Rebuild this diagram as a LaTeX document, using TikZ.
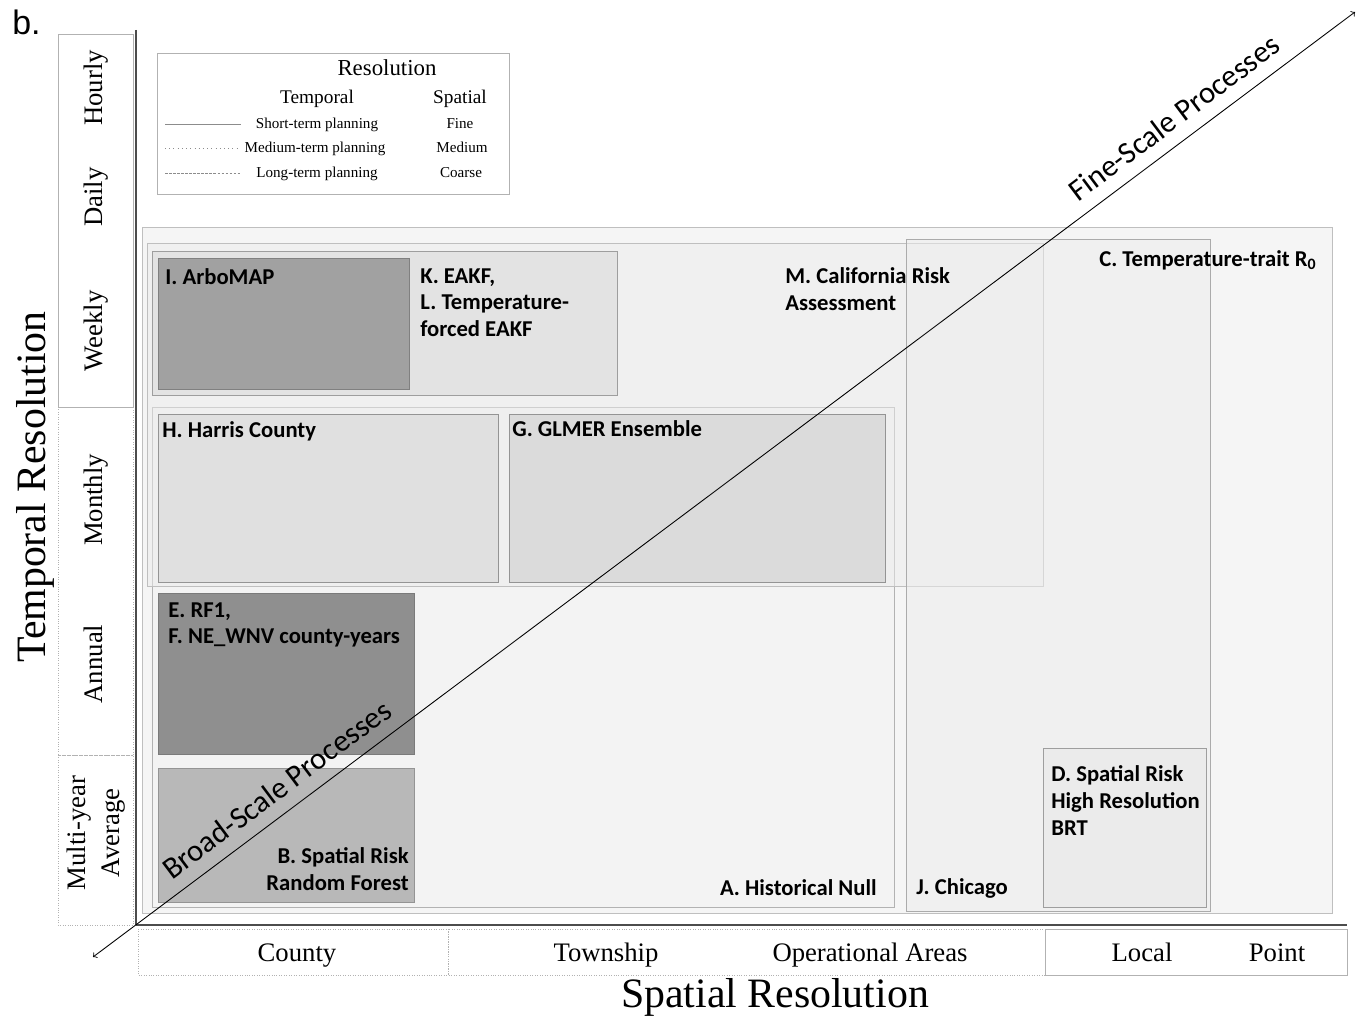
\documentclass[tikz,border=0pt]{standalone}
\usepackage{fontspec}
\setmainfont{Liberation Serif}
\newfontfamily\calibri{Carlito}
\newfontfamily\arial{Liberation Sans}
\begin{document}
\begin{tikzpicture}[x=0.02cm, y=-0.02cm,
    panel/.style={draw=black!25, line width=0.5pt},
    model/.style={font=\calibri\bfseries\fontsize{12.9}{15.3}\selectfont, align=left, inner sep=0pt},
    tick/.style={font=\fontsize{15.2}{19.3}\selectfont, inner sep=0pt},
    leg/.style={font=\fontsize{8.6}{10}\selectfont, inner sep=0pt},
    axbox/.style={draw=black!30, line width=0.4pt},
    process/.style={font=\calibri\fontsize{17.5}{20}\selectfont, sloped, above=4pt}]
    \useasboundingbox (0,0) rectangle (1359,1016);

    \node[font=\arial\fontsize{19.3}{22}\selectfont, anchor=base west, inner sep=0pt] (tag) at (12,35) {b.};

    \draw[panel, fill=black!4] (142,227) rectangle (1332,913);
    \draw[panel, draw=black!30, fill=black!5, fill opacity=0.5] (152,407) rectangle (894,907);
    \draw[panel, fill=black!7, fill opacity=0.5] (147,243) rectangle (1043,586);
    \draw[panel, draw=black!33, fill=black!7, fill opacity=0.5] (906,239) rectangle (1210,911);
    \draw[panel, draw=black!38, fill=black!11] (152,251) rectangle (617,395);
    \draw[panel, draw=black!50, fill=black!37] (158,258) rectangle (409,389);
    \draw[panel, draw=black!42, fill=black!12] (158,414) rectangle (498,582);
    \draw[panel, draw=black!42, fill=black!14] (509,414) rectangle (885,582);
    \draw[panel, draw=black!52, fill=black!44] (158,593) rectangle (414,754);
    \draw[panel, draw=black!42, fill=black!28] (158,768) rectangle (414,902);
    \draw[panel, draw=black!38, fill=black!8] (1043,748) rectangle (1206,907);

    \node[model, anchor=north west] (arbomap) at (165,268) {I. ArboMAP};
    \node[model, anchor=north west] (eakf) at (420,268) {K. EAKF,\\L. Temperature-\\forced EAKF};
    \node[model, anchor=north west] (california) at (785,267) {M. California Risk\\Assessment};
    \node[model, anchor=north east] (trait) at (1317,250) {C. Temperature-trait R\textsubscript{0}};
    \node[model, anchor=north west] (harris) at (162,421) {H. Harris County};
    \node[model, anchor=north west] (glmer) at (512,420) {G. GLMER Ensemble};
    \node[model, anchor=north west] (rfone) at (168,602) {E. RF1,\\F. NE\_WNV county-years};
    \node[model, anchor=north east, align=right] (forest) at (409,847) {B. Spatial Risk\\Random Forest};
    \node[model, anchor=north east] (histnull) at (877,879) {A. Historical Null};
    \node[model, anchor=north west] (chicago) at (916,878) {J. Chicago};
    \node[model, anchor=north west] (brt) at (1051,765) {D. Spatial Risk\\High Resolution\\BRT};

    \draw[draw=black!30, line width=0.5pt] (157,53) rectangle (509,194);
    \node[font=\fontsize{13}{15}\selectfont, anchor=base, inner sep=0pt] (legtitle) at (387,76) {Resolution};
    \node[font=\fontsize{11}{13}\selectfont, anchor=base, inner sep=0pt] (legtemp) at (317,104) {Temporal};
    \node[font=\fontsize{11}{13}\selectfont, anchor=base, inner sep=0pt] (legspat) at (460,104) {Spatial};
    \node[leg, anchor=base] (shortterm) at (317,129) {Short-term planning};
    \node[leg, anchor=base] (midterm) at (315,153) {Medium-term planning};
    \node[leg, anchor=base] (longterm) at (317,178) {Long-term planning};
    \node[leg, anchor=base] (finelvl) at (460,129) {Fine};
    \node[leg, anchor=base] (midlvl) at (462,153) {Medium};
    \node[leg, anchor=base] (coarselvl) at (461,178) {Coarse};
    \draw[black!45, line width=0.4pt] (165,124) -- (241,124);
    \draw[black!45, line width=0.4pt, dotted] (165,148) -- (240,148);
    \draw[black!45, line width=0.4pt, dash pattern=on 1.5pt off 0.8pt] (165,173) -- (240,173);

    \draw[axbox] (58,34) rectangle (133,407);
    \draw[axbox, densely dotted] (58,407) rectangle (133,755);
    \draw[axbox, densely dotted] (58,755) rectangle (133,925);
    \node[tick, rotate=90, anchor=base] (hourly) at (102,88) {Hourly};
    \node[tick, rotate=90, anchor=base] (daily) at (102,197) {Daily};
    \node[tick, rotate=90, anchor=base] (weekly) at (102,331) {Weekly};
    \node[tick, rotate=90, anchor=base] (monthly) at (102,500) {Monthly};
    \node[tick, rotate=90, anchor=base] (annual) at (102,664) {Annual};
    \node[tick, rotate=90, align=center] (multiyear) at (96,833) {Multi-year\\Average};

    \draw[axbox, densely dotted] (138,929) rectangle (448,975);
    \draw[axbox, densely dotted] (448,929) rectangle (1045,975);
    \draw[axbox] (1045,929) rectangle (1347,975);
    \node[tick, anchor=base] (county) at (297,961) {County};
    \node[tick, anchor=base] (township) at (606,961) {Township};
    \node[tick, anchor=base] (oparea) at (870,961) {Operational Areas};
    \node[tick, anchor=base] (local) at (1142,961) {Local};
    \node[tick, anchor=base] (point) at (1277,961) {Point};

    \draw[black!70, line width=0.9pt] (136,30) -- (136,925);
    \draw[black!70, line width=1.1pt] (136,925) -- (1347,925);

    \node[font=\fontsize{23.8}{28}\selectfont, rotate=90, anchor=base, inner sep=0pt] (ytitle) at (45,487) {Temporal Resolution};
    \node[font=\fontsize{23.8}{28}\selectfont, anchor=base, inner sep=0pt] (xtitle) at (775,1007) {Spatial Resolution};

    \coordinate (broadtip) at (93,957);
    \coordinate (finetip) at (1355,12);
    \draw[<->, line width=0.5pt] (broadtip) -- node[process, pos=0.157] (broadlab) {Broad-Scale Processes} node[process, pos=0.868] (finelab) {Fine-Scale Processes} (finetip);
\end{tikzpicture}
\end{document}
